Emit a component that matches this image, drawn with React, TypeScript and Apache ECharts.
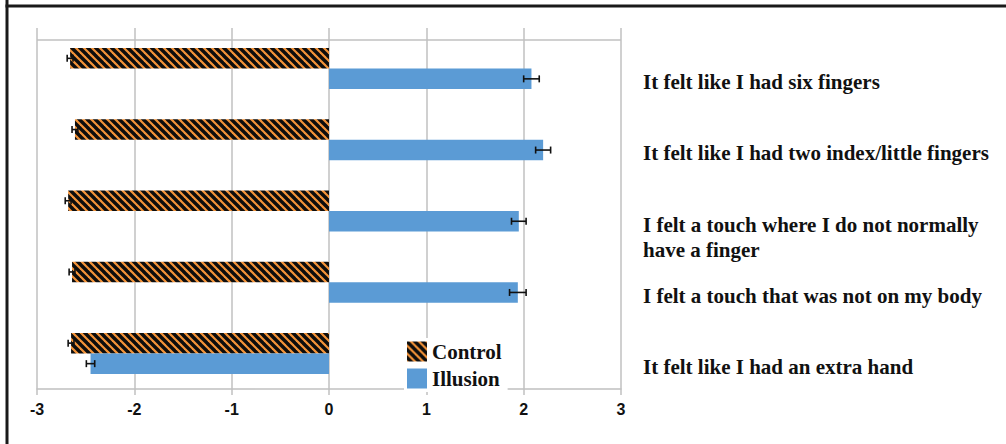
import React, { useEffect, useRef } from "react";
import * as echarts from "echarts";

const categories = [
  "It felt like I had six fingers",
  "It felt like I had two index/little fingers",
  "I felt a touch where I do not normally\nhave a finger",
  "I felt a touch that was not on my body",
  "It felt like I had an extra hand",
];
const seriesNames = ["Control", "Illusion"];
const controlValues = [-2.66, -2.61, -2.68, -2.64, -2.65];
const controlErrors = [0.03, 0.03, 0.03, 0.03, 0.03];
const illusionValues = [2.08, 2.2, 1.95, 1.94, -2.45];
const illusionErrors = [0.08, 0.077, 0.075, 0.085, 0.043];
const xMin = -3;
const xMax = 3;
const xInterval = 1;

const BAR_W = 20.5;
const GRID_COLOR = "#c0c0c0";

function makeHatch() {
  const s = 8;
  const c = document.createElement("canvas");
  c.width = s;
  c.height = s;
  const ctx = c.getContext("2d")!;
  ctx.fillStyle = "#F39339";
  ctx.fillRect(0, 0, s, s);
  ctx.strokeStyle = "#0d0d0d";
  ctx.lineWidth = 3.4;
  for (const o of [-s, 0, s]) {
    ctx.beginPath();
    ctx.moveTo(o - 1, -1);
    ctx.lineTo(o + s + 1, s + 1);
    ctx.stroke();
  }
  return c;
}

export default function App() {
  const ref = useRef<HTMLDivElement>(null);
  useEffect(() => {
    if (!ref.current) return;
    const chart = echarts.init(ref.current, null, { renderer: "svg" });
    const hatch = makeHatch();
    const pattern: any = { image: hatch, repeat: "repeat", imageWidth: 8, imageHeight: 8 };

    const errData: any[] = [];
    controlValues.forEach((v, i) => errData.push([v, controlErrors[i], i, -1]));
    illusionValues.forEach((v, i) => errData.push([v, illusionErrors[i], i, 1]));

    chart.setOption({
      animation: false,
      backgroundColor: "#ffffff",
      grid: { left: 37, right: 385, top: 33, bottom: 55 },
      xAxis: [
        {
          type: "value",
          min: xMin,
          max: xMax,
          interval: xInterval,
          position: "bottom",
          axisLine: { show: true, onZero: false, lineStyle: { color: GRID_COLOR, width: 1.5 } },
          axisTick: { show: true, length: 6, lineStyle: { color: GRID_COLOR, width: 1.5 } },
          splitLine: { show: true, lineStyle: { color: GRID_COLOR, width: 1.5 } },
          axisLabel: {
            fontFamily: "Liberation Sans",
            fontWeight: "bold",
            fontSize: 16,
            color: "#111",
            margin: 12,
          },
        },
        {
          type: "value",
          min: xMin,
          max: xMax,
          interval: xInterval,
          position: "top",
          axisLine: { show: false },
          axisTick: { show: true, length: 5, lineStyle: { color: GRID_COLOR, width: 1.5 } },
          splitLine: { show: false },
          axisLabel: { show: false },
        },
      ],
      yAxis: {
        type: "category",
        data: categories,
        inverse: true,
        position: "right",
        axisLine: { show: false },
        axisTick: { show: false },
        splitLine: { show: false },
        axisLabel: {
          interval: 0,
          margin: 22,
          fontFamily: "Liberation Serif",
          fontWeight: "bold",
          fontSize: 21,
          lineHeight: 25,
          color: "#111",
          verticalAlign: "top",
          padding: [1, 0, 0, 0],
        },
      },
      legend: {
        data: seriesNames,
        orient: "vertical",
        left: 404,
        top: 338,
        itemWidth: 20,
        itemHeight: 20,
        itemGap: 6,
        icon: "rect",
        backgroundColor: "#ffffff",
        padding: [3, 6, 3, 3],
        textStyle: {
          fontFamily: "Liberation Serif",
          fontWeight: "bold",
          fontSize: 21,
          color: "#111",
        },
      },
      graphic: [
        { type: "line", shape: { x1: 7, y1: 0, x2: 7, y2: 444 }, style: { stroke: "#1a1a1a", lineWidth: 3 }, z: 100 },
        { type: "line", shape: { x1: 5.5, y1: 6, x2: 1006, y2: 6 }, style: { stroke: "#1a1a1a", lineWidth: 3 }, z: 100 },
        { type: "line", shape: { x1: 37, y1: 40, x2: 621, y2: 40 }, style: { stroke: GRID_COLOR, lineWidth: 1.5 }, z: 0 },
      ],
      series: [
        {
          name: seriesNames[0],
          type: "bar",
          data: controlValues,
          barWidth: BAR_W,
          barGap: "0%",
          itemStyle: { color: pattern },
        },
        {
          name: seriesNames[1],
          type: "bar",
          data: illusionValues,
          barWidth: BAR_W,
          barGap: "0%",
          itemStyle: { color: "#5B9BD5" },
        },
        {
          name: "errors",
          type: "custom",
          data: errData,
          encode: { x: 0, y: 2 },
          z: 10,
          renderItem: (params: any, api: any) => {
            const v = api.value(0);
            const e = api.value(1);
            const c = api.value(2);
            const side = api.value(3);
            const p1 = api.coord([v - e, c]);
            const p2 = api.coord([v + e, c]);
            const y = p1[1] + (side * BAR_W) / 2;
            const h = 3.5;
            const st = { stroke: "#111", lineWidth: 1.6 };
            return {
              type: "group",
              children: [
                { type: "line", shape: { x1: p1[0], y1: y, x2: p2[0], y2: y }, style: st },
                { type: "line", shape: { x1: p1[0], y1: y - h, x2: p1[0], y2: y + h }, style: st },
                { type: "line", shape: { x1: p2[0], y1: y - h, x2: p2[0], y2: y + h }, style: st },
              ],
            };
          },
        },
      ],
    });
    return () => chart.dispose();
  }, []);
  return (
    <div
      ref={ref}
      style={{ position: "absolute", left: 0, top: 0, width: 1006, height: 444 }}
    />
  );
}
